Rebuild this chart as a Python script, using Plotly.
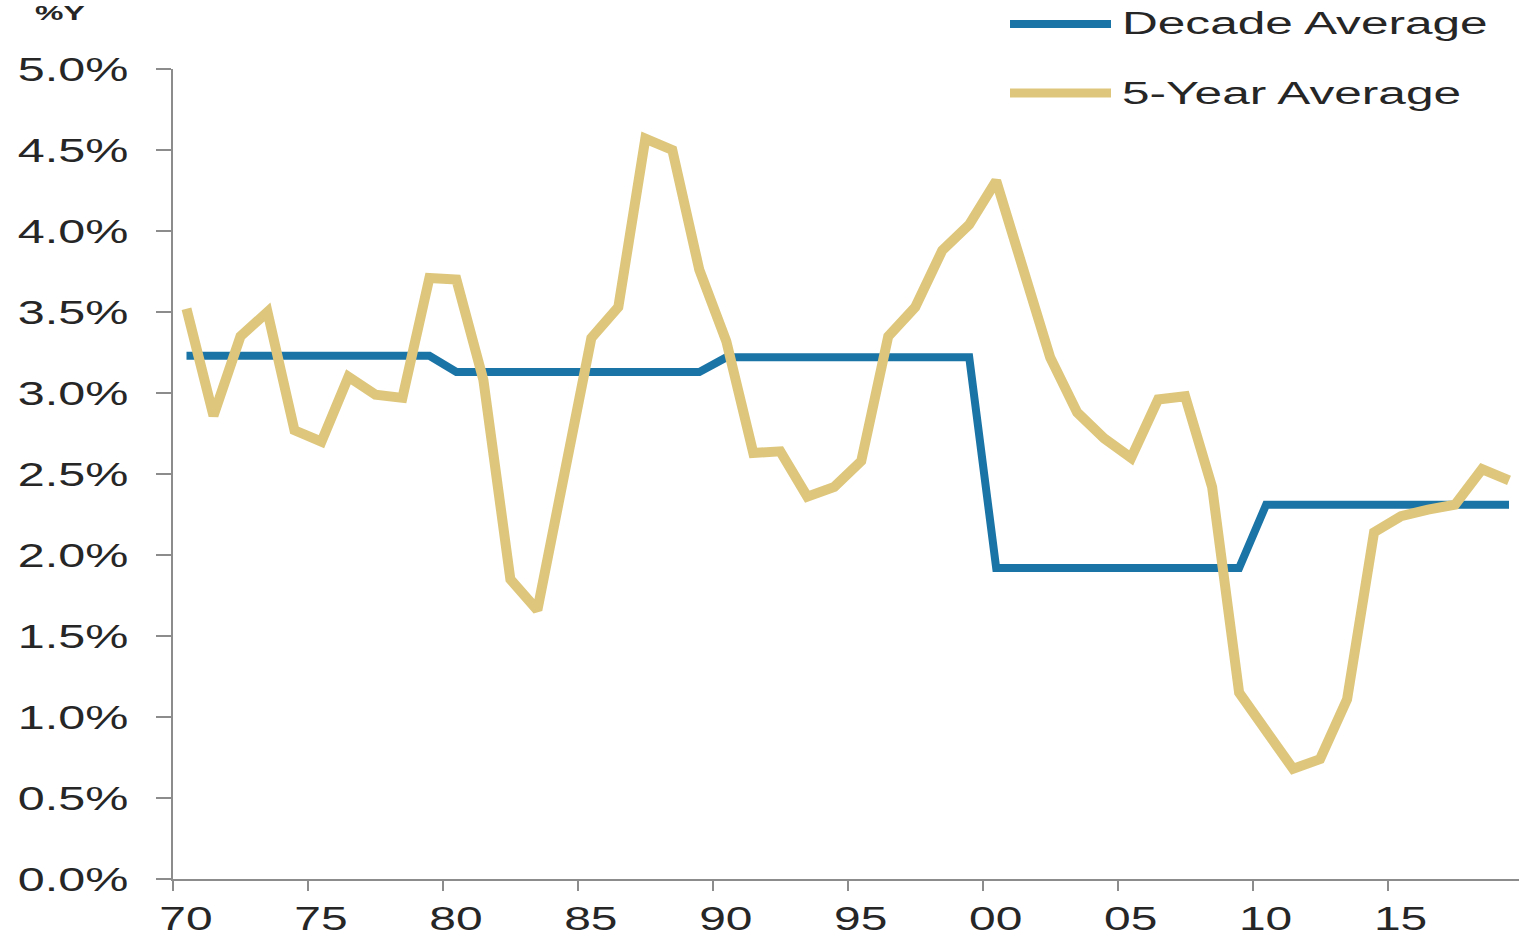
import plotly.graph_objects as go

# Annual series, 1970-2019 (% per year)
years = list(range(1970, 2020))

five_year_avg = [
    3.52, 2.86, 3.35, 3.50, 2.77, 2.70, 3.10, 2.99, 2.97, 3.71,
    3.70, 3.08, 1.85, 1.66, 2.50, 3.34, 3.53, 4.57, 4.50, 3.76,
    3.32, 2.63, 2.64, 2.36, 2.42, 2.58, 3.35, 3.53, 3.88, 4.04,
    4.31, 3.78, 3.22, 2.88, 2.72, 2.60, 2.96, 2.98, 2.42, 1.15,
    0.92, 0.68, 0.74, 1.11, 2.14, 2.24, 2.28, 2.31, 2.53, 2.46,
]

decade_avg = [
    3.23, 3.23, 3.23, 3.23, 3.23, 3.23, 3.23, 3.23, 3.23, 3.23,
    3.13, 3.13, 3.13, 3.13, 3.13, 3.13, 3.13, 3.13, 3.13, 3.13,
    3.22, 3.22, 3.22, 3.22, 3.22, 3.22, 3.22, 3.22, 3.22, 3.22,
    1.92, 1.92, 1.92, 1.92, 1.92, 1.92, 1.92, 1.92, 1.92, 1.92,
    2.31, 2.31, 2.31, 2.31, 2.31, 2.31, 2.31, 2.31, 2.31, 2.31,
]

x_tick_years = [1970, 1975, 1980, 1985, 1990, 1995, 2000, 2005, 2010, 2015]
x_tick_labels = ["70", "75", "80", "85", "90", "95", "00", "05", "10", "15"]
y_tick_values = [0.0, 0.5, 1.0, 1.5, 2.0, 2.5, 3.0, 3.5, 4.0, 4.5, 5.0]
y_tick_labels = ["0.0%", "0.5%", "1.0%", "1.5%", "2.0%", "2.5%",
                 "3.0%", "3.5%", "4.0%", "4.5%", "5.0%"]

series_names = ["Decade Average", "5-Year Average"]
BLUE = "#1B74A6"
GOLD = "#DEC77C"
AXIS = "#8C8C8C"
TEXT = "#262626"
FONT = "Liberation Sans, Arial, sans-serif"

# each annual value sits in the middle of its year
x_mid = [y + 0.5 for y in years]

fig = go.Figure()
fig.add_trace(go.Scatter(x=x_mid, y=decade_avg, mode="lines",
                         name=series_names[0],
                         line=dict(color=BLUE, width=8)))
fig.add_trace(go.Scatter(x=x_mid, y=five_year_avg, mode="lines",
                         name=series_names[1],
                         line=dict(color=GOLD, width=10)))

W, H = 1519, 938
ML, MR, MT, MB = 173, 0, 69, 59
pw, ph = W - ML - MR, H - MT - MB


def px_to_paper(px, py):
    return (px - ML) / pw, (H - MB - py) / ph


# hand-built legend: long line samples with labels to the right
shapes, annotations = [], []
for i, (name, col, wid) in enumerate(zip(series_names, [BLUE, GOLD], [8, 9])):
    row_y = [24, 93][i]
    x0, yy = px_to_paper(1010, row_y)
    x1, _ = px_to_paper(1111, row_y)
    shapes.append(dict(type="line", xref="paper", yref="paper",
                       x0=x0, x1=x1, y0=yy, y1=yy,
                       line=dict(color=col, width=wid)))
    tx, ty = px_to_paper(1120, row_y)
    annotations.append(dict(text=name, xref="paper", yref="paper",
                            x=tx, y=ty, xanchor="left", yanchor="middle",
                            align="left", showarrow=False,
                            font=dict(family=FONT, size=31, color=TEXT)))

# unit label above the value axis
ux, uy = px_to_paper(33, 0)
annotations.append(dict(text="<b>%Y</b>", xref="paper", yref="paper",
                        x=ux, y=uy, xanchor="left", yanchor="top",
                        align="left", showarrow=False,
                        font=dict(family=FONT, size=20, color=TEXT)))

fig.update_layout(
    width=W, height=H,
    margin=dict(l=ML, r=MR, t=MT, b=MB, pad=0),
    paper_bgcolor="white", plot_bgcolor="white",
    showlegend=False,
    shapes=shapes, annotations=annotations,
    font=dict(family=FONT, color=TEXT),
    xaxis=dict(
        range=[1970, 1970 + pw / 26.99],
        automargin=False,
        tickmode="array", tickvals=x_tick_years, ticktext=x_tick_labels,
        ticks="outside", ticklen=10, tickwidth=2, tickcolor=AXIS,
        showline=True, linecolor=AXIS, linewidth=2,
        showgrid=False, zeroline=False,
        ticklabelshift=13, ticklabelstandoff=-2,
        tickfont=dict(family=FONT, size=34, color=TEXT),
    ),
    yaxis=dict(
        range=[0, 5],
        automargin=False,
        tickmode="array", tickvals=y_tick_values, ticktext=y_tick_labels,
        ticks="outside", ticklen=15, tickwidth=2, tickcolor=AXIS,
        showline=True, linecolor=AXIS, linewidth=2,
        showgrid=False, zeroline=False,
        ticklabelstandoff=21,
        tickfont=dict(family=FONT, size=33, color=TEXT),
    ),
)

# widen the lettering horizontally, keeping each label's anchor edge fixed
post = """
var gd = document.getElementById('{plot_id}');
function widen(sel, s) {
  gd.querySelectorAll(sel).forEach(function (t) {
    var b = t.getBBox();
    var a = t.getAttribute('text-anchor') || 'start';
    var ax = a === 'end' ? b.x + b.width : (a === 'middle' ? b.x + b.width / 2 : b.x);
    var old = t.getAttribute('transform') || '';
    t.setAttribute('transform', old + ' translate(' + ax + ',0) scale(' + s + ',1) translate(' + (-ax) + ',0)');
  });
}
widen('.ytick text', 1.47);
widen('.xtick text', 1.41);
widen('.annotation-text', 1.6);
"""

fig.write_html("out.html", config={"displayModeBar": False}, post_script=post)
